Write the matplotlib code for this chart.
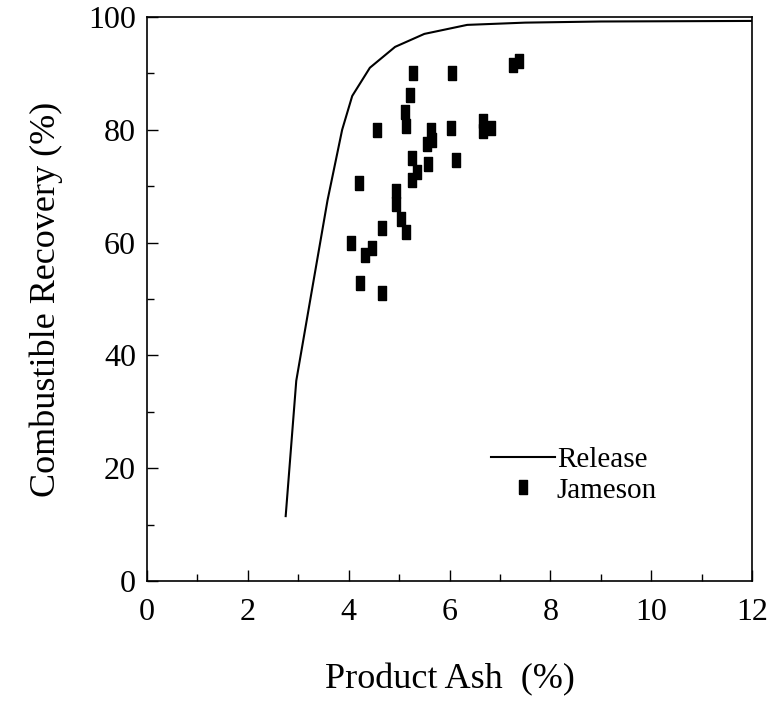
import matplotlib
matplotlib.use("Agg")
import matplotlib.pyplot as plt
from matplotlib.ticker import MultipleLocator

# Release curve (product ash vs combustible recovery)
release_ash = [2.75, 2.96, 3.25, 3.58, 3.87, 4.07, 4.42, 4.92, 5.5, 6.35, 7.5, 9.0, 12.0]
release_rec = [11.5, 35.5, 50.5, 67.5, 80.0, 86.0, 91.0, 94.7, 97.0, 98.6, 99.0, 99.2, 99.3]

# Jameson cell test points
jameson_ash = [4.05, 4.21, 4.23, 4.33, 4.46, 4.56, 4.66, 4.66, 4.94, 4.94,
               5.04, 5.12, 5.14, 5.14, 5.22, 5.28, 5.26, 5.26, 5.36, 5.56,
               5.58, 5.63, 5.65, 6.05, 6.03, 6.13, 6.67, 6.67, 6.83, 7.26, 7.38]
jameson_rec = [60.0, 70.5, 52.9, 57.8, 59.0, 80.0, 51.0, 62.5, 69.2, 66.9,
               64.2, 83.1, 80.7, 61.8, 86.1, 90.1, 75.0, 71.1, 72.6, 77.5,
               73.9, 79.9, 78.2, 90.1, 80.3, 74.6, 81.6, 79.8, 80.3, 91.5, 92.2]

plt.rcParams['font.family'] = ['Liberation Serif', 'DejaVu Serif']

fig = plt.figure(figsize=(7.71, 7.02), dpi=100)
ax = fig.add_axes([0.1907, 0.1724, 0.7847, 0.8034])

ax.plot(release_ash, release_rec, color='black', lw=1.5, label="Release")
rect = [(-4, -6.5), (4, -6.5), (4, 6.5), (-4, 6.5), (-4, -6.5)]
ax.plot(jameson_ash, jameson_rec, linestyle='none', marker=rect, markersize=9.5,
        color='black', label="Jameson")

ax.set_xlim(0, 12)
ax.set_ylim(0, 100)
ax.xaxis.set_major_locator(MultipleLocator(2))
ax.xaxis.set_minor_locator(MultipleLocator(1))
ax.yaxis.set_major_locator(MultipleLocator(20))
ax.yaxis.set_minor_locator(MultipleLocator(10))
ax.tick_params(which='both', direction='in', top=False, right=False, labelsize=23)
ax.tick_params(axis='x', which='major', length=8, width=1, pad=12)
ax.tick_params(axis='y', which='major', length=8, width=1, pad=8)
ax.tick_params(which='minor', length=5, width=1)
for s in ax.spines.values():
    s.set_linewidth(1.2)

ax.set_xlabel("Product Ash  (%)", fontsize=26, labelpad=26)
ax.set_ylabel("Combustible Recovery (%)", fontsize=26, labelpad=18)

ax.legend(loc='center', bbox_to_anchor=(0.706, 0.188), frameon=False,
          fontsize=21, handlelength=2.2, handletextpad=0.05, labelspacing=0.15)

fig.savefig("out.png", dpi=100)
